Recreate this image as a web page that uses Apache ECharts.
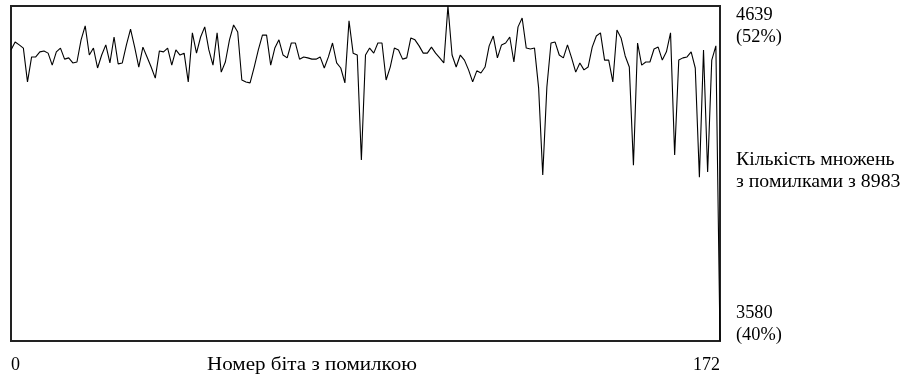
<!DOCTYPE html>
<html>
<head>
<meta charset="utf-8">
<script src="https://cdn.jsdelivr.net/npm/echarts@6/dist/echarts.min.js"></script>
<style>
html,body{margin:0;padding:0;background:#fff;}
#c{width:908px;height:376px;}
</style>
</head>
<body>
<div id="c"></div>
<script>
// bit index 0..172
const xMin = 0;
const xMax = 172;
// number of multiplications with errors (out of 8983) per erroneous bit
const errCounts = [
4500,4525,4516,4506,4399,4478,4478,4494,4497,4490,
4452,4494,4506,4471,4475,4459,4462,4532,4576,4484,
4506,4443,4484,4516,4459,4541,4456,4459,4516,4566,
4509,4446,4509,4478,4446,4411,4497,4494,4506,4452,
4500,4484,4490,4399,4554,4490,4541,4573,4500,4452,
4554,4430,4462,4532,4579,4557,4405,4399,4396,4446,
4500,4547,4547,4452,4506,4532,4484,4475,4522,4522,
4471,4478,4475,4471,4471,4478,4443,4478,4522,4459,
4443,4396,4592,4490,4484,4152,4484,4506,4490,4522,
4522,4405,4446,4506,4500,4471,4475,4538,4532,4513,
4490,4490,4509,4490,4475,4459,4639,4484,4446,4484,
4468,4437,4399,4434,4427,4446,4513,4544,4475,4516,
4522,4541,4462,4573,4601,4506,4503,4506,4380,4105,
4383,4522,4525,4484,4475,4516,4475,4430,4459,4437,
4446,4509,4544,4554,4468,4468,4399,4563,4538,4481,
4446,4136,4522,4452,4462,4462,4503,4509,4468,4494,
4554,4168,4468,4475,4478,4494,4443,4098,4500,4114,
4468,4513,3580
];
const yMin = 3580;
const yMax = 4639;
const xTickLabels = ['0', '172'];
const yTopLabel = ['4639', '(52%)'];
const yBottomLabel = ['3580', '(40%)'];
const yName = ['Кількість множень', 'з помилками з 8983'];
const xName = 'Номер біта з помилкою';

const FONT = "'Liberation Serif', 'DejaVu Serif', serif";
const FS = 18;

const seriesData = errCounts.map((v, i) => [i, v]);

function txt(text, x, y, sx) {
  return {type: 'text', x: x, y: y, scaleX: sx, originX: 0, originY: 0,
    style: {text: text, x: 0, y: 0, font: FS + 'px ' + FONT, fill: '#000',
            lineHeight: 22, textAlign: 'left', textVerticalAlign: 'top'}};
}

const chart = echarts.init(document.getElementById('c'), null, {renderer: 'canvas'});
chart.setOption({
  animation: false,
  backgroundColor: '#fff',
  grid: {left: 11, right: 188, top: 6, bottom: 35, show: true,
         borderColor: '#222', borderWidth: 2, backgroundColor: 'transparent'},
  xAxis: {
    type: 'value', min: xMin, max: xMax, interval: xMax,
    axisLine: {show: false}, axisTick: {show: false}, splitLine: {show: false},
    axisLabel: {
      show: true, margin: 15, color: '#000', fontFamily: FONT, fontSize: FS,
      alignMinLabel: 'left', alignMaxLabel: 'right',
      formatter: (v) => v === xMin ? xTickLabels[0] : xTickLabels[1]
    }
  },
  yAxis: {
    type: 'value', min: yMin, max: yMax,
    axisLine: {show: false}, axisTick: {show: false}, splitLine: {show: false},
    axisLabel: {show: false}
  },
  series: [{
    type: 'line', data: seriesData, showSymbol: false, symbol: 'none',
    lineStyle: {color: '#000', width: 1.1}, clip: false
  }],
  graphic: [
    txt(yTopLabel.join('\n'), 736, 4, 1.02),
    txt(yName.join('\n'), 736, 149, 1.1),
    txt(yBottomLabel.join('\n'), 736, 302, 1.02),
    txt(xName, 207, 354, 1.17)
  ]
});
</script>
</body>
</html>
